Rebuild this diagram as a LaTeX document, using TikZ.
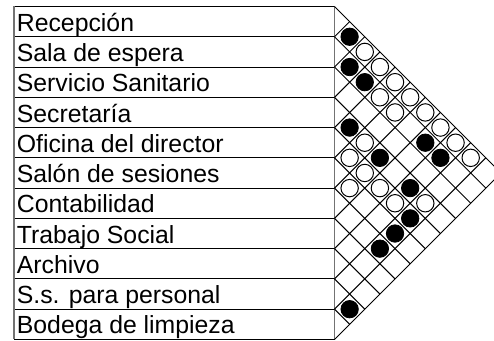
\documentclass[tikz,border=0pt]{standalone}
\usepackage{fontspec}
\setmainfont{Liberation Sans}
\usepackage{tikz}
\usetikzlibrary{positioning, calc}

% table geometry (picture units)
\def\rh{30.27}
\def\tabL{14}
\def\tabR{334.5}
\def\tabT{6.5}

\tikzset{
  roomlabel/.style={anchor=base west, inner sep=0pt, font=\fontsize{12.4}{13}\selectfont},
  tabline/.style={draw=black, line width=0.5pt},
  sideline/.style={draw=black!55, line width=0.7pt},
  gridline/.style={draw=black, line width=0.5pt},
  strong/.style={circle, draw=black, fill=black, minimum size=8.7pt, inner sep=0pt},
  weak/.style={circle, draw=black, fill=white, line width=0.5pt, minimum size=8.7pt, inner sep=0pt}
}

\begin{document}
\begin{tikzpicture}[x=0.5pt, y=-0.5pt]
    \clip (0,0) rectangle (494,341);
    \fill[white] (0,0) rectangle (494,341);

    % room names
    \foreach \room [count=\i from 0] in {Recepción, Sala de espera, Servicio Sanitario,
        Secretaría, Oficina del director, Salón de sesiones, Contabilidad,
        Trabajo Social, Archivo, S.s. para personal, Bodega de limpieza} {
      \node[roomlabel] (room\i) at (\tabL+2.5, {\tabT+(\i+1)*\rh-5.5}) {\room};
    }

    % row boundaries on the right edge
    \foreach \k in {0,...,11} {
      \coordinate (b\k) at (\tabR, {\tabT+\k*\rh});
      \draw[tabline] (\tabL, {\tabT+\k*\rh}) -- (b\k);
    }
    \draw[sideline] (\tabL, \tabT) -- (\tabL, {\tabT+11*\rh});
    \draw[sideline] (b0) -- (b11);

    % diagonal grid
    \foreach \k in {0,...,11} {
      \draw[gridline] (b\k) -- ++({(11-\k)*\rh/2}, {(11-\k)*\rh/2});
      \draw[gridline] (b\k) -- ++({\k*\rh/2}, {-\k*\rh/2});
    }

    % strong relations
    \foreach \i/\j in {0/1, 1/2, 1/3, 3/4, 1/7, 3/6, 1/8, 3/8, 4/9, 5/9, 6/9, 9/10} {
      \node[strong] (c\i-\j) at ({\tabR+(\j-\i)*\rh/2}, {\tabT+(\i+\j+1)*\rh/2}) {};
    }

    % weak relations
    \foreach \i/\j in {0/2, 0/3, 0/4, 1/4, 0/5, 1/5, 0/6, 0/7, 3/5, 0/8, 4/5,
        0/9, 4/6, 5/6, 4/7, 4/8, 3/9} {
      \node[weak] (c\i-\j) at ({\tabR+(\j-\i)*\rh/2}, {\tabT+(\i+\j+1)*\rh/2}) {};
    }
\end{tikzpicture}
\end{document}
